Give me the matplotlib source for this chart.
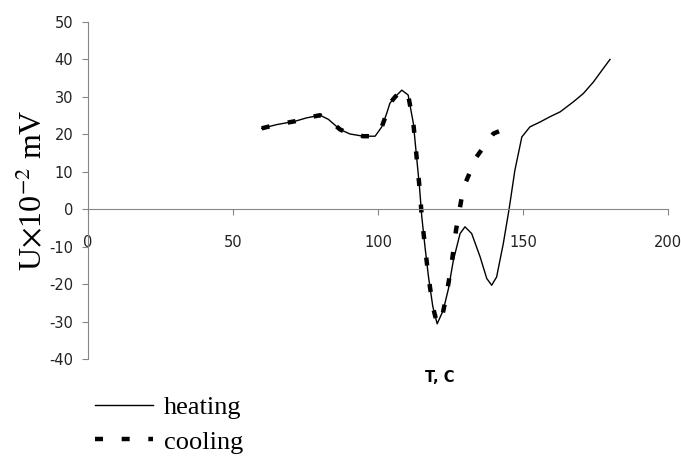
import matplotlib
matplotlib.use("Agg")
import matplotlib.pyplot as plt

# heating curve (T, C  vs  U x 10^-2 mV)
heat_t = [59.9, 65.1, 71.4, 75.4, 80.0, 82.9, 86.9, 90.3, 94.9, 99.0,
          101.3, 103.0, 104.1, 105.9, 108.2, 110.4, 112.2, 113.3, 114.3,
          115.1, 116.2, 117.4, 118.9, 120.4, 122.5, 124.3, 126.0, 128.3,
          130.0, 132.3, 135.2, 137.5, 139.2, 140.9, 143.2, 145.2, 147.2,
          149.6, 152.4, 155.9, 159.3, 162.8, 167.4, 170.8, 174.3, 177.7,
          180.0]
heat_u = [21.6, 22.6, 23.5, 24.4, 25.1, 24.0, 21.3, 20.1, 19.5, 19.5,
          22.0, 25.6, 28.3, 30.0, 31.8, 30.5, 22.9, 14.0, 6.0,
          -2.0, -10.0, -18.0, -26.0, -30.6, -27.0, -21.2, -13.6, -6.5,
          -4.7, -6.5, -12.7, -18.5, -20.3, -18.1, -9.2, 0.0, 10.4,
          19.3, 22.0, 23.3, 24.7, 26.0, 28.7, 30.9, 34.0, 37.6,
          40.0]

# cooling curve
cool_t = [59.9, 65.1, 71.4, 75.4, 80.0, 82.9, 86.9, 90.3, 94.9, 99.0,
          101.3, 103.0, 104.1, 105.9, 108.2, 110.4, 112.2, 113.3, 114.3,
          115.1, 116.2, 117.4, 118.9, 120.4, 122.3, 123.7, 125.4, 126.9,
          128.9, 130.3, 134.0, 135.2, 139.8, 142.6]
cool_u = [21.6, 22.6, 23.5, 24.4, 25.1, 24.0, 21.3, 20.1, 19.5, 19.5,
          22.0, 25.6, 28.3, 30.0, 31.8, 30.5, 22.9, 14.0, 6.0,
          -2.0, -10.0, -18.0, -26.0, -30.6, -28.0, -22.6, -14.5, -5.6,
          3.3, 7.3, 14.0, 15.3, 20.2, 21.1]

x_ticks = [0, 50, 100, 150, 200]
y_ticks = [-40, -30, -20, -10, 0, 10, 20, 30, 40, 50]

plt.rcParams["mathtext.fontset"] = "stix"
plt.rcParams["axes.unicode_minus"] = False
axis_grey = "#868686"

fig = plt.figure(figsize=(6.81, 4.59), dpi=100)
ax = fig.add_axes([88 / 681, 1 - 359 / 459, 580 / 681, 337 / 459])

ax.plot(heat_t, heat_u, color="black", linewidth=1.0, label="heating")
ax.plot(cool_t, cool_u, color="black", linewidth=3.2,
        linestyle=(0, (1.8, 4.2)), dash_capstyle="butt", label="cooling")

ax.set_xlim(0, 200)
ax.set_ylim(-40, 50)
ax.set_xticks(x_ticks)
ax.set_yticks(y_ticks)

for side in ("top", "right"):
    ax.spines[side].set_visible(False)
ax.spines["bottom"].set_position(("data", 0))
ax.spines["bottom"].set_color(axis_grey)
ax.spines["left"].set_color(axis_grey)
ax.tick_params(axis="both", direction="out", length=4.5, color=axis_grey,
               labelsize=10.5, labelcolor="#222222")
ax.tick_params(axis="x", pad=14)
ax.tick_params(axis="y", pad=6)

ax.set_ylabel(r"U$\times$10$^{-2}$ mV", family="Liberation Serif",
              fontsize=23, labelpad=0)
fig.text(440 / 681, 1 - 378 / 459, "T, C", ha="center", va="center",
         fontsize=10.5, fontweight="bold")

ax.legend(loc="upper left", bbox_to_anchor=(95 / 681, 1 - 396 / 459),
          bbox_transform=fig.transFigure, frameon=False,
          prop={"family": "Liberation Serif", "size": 19},
          handlelength=2.2, handletextpad=0.4, labelspacing=0.4,
          borderaxespad=0, borderpad=0)

fig.savefig("out.png", dpi=100)
